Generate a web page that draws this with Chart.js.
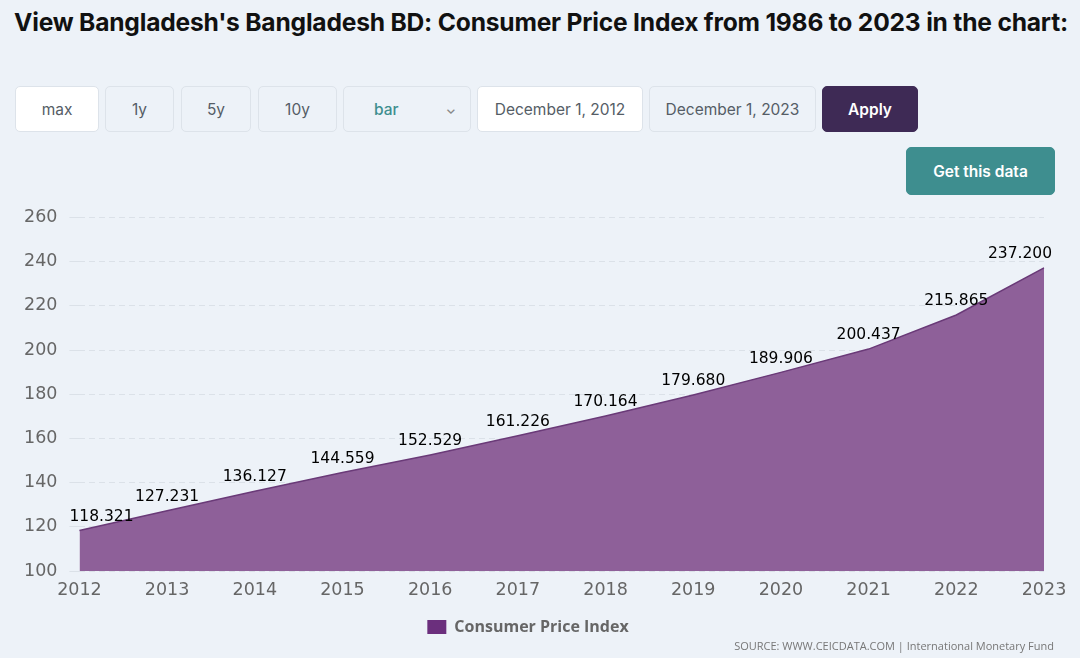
<!DOCTYPE html>
<html>
<head>
<meta charset="utf-8">
<title>Bangladesh BD: Consumer Price Index</title>
<script src="https://cdn.jsdelivr.net/npm/chart.js"></script>
<style>
  body { margin: 0; background: #edf2f8; font-family: Inter, "Open Sans", sans-serif; width: 1080px; height: 658px; position: relative; overflow: hidden; }
  h1 { position: absolute; left: 14px; top: 7px; margin: 0; font-size: 24.6px; font-weight: 700; color: #111; letter-spacing: -0.2px; }
  .btn { position: absolute; top: 86px; height: 46px; box-sizing: border-box; border: 1px solid #dde3ea; border-radius: 5px; background: #edf2f8; color: #555d66; font-size: 15.5px; display: flex; align-items: center; justify-content: center; }
  .white { background: #fff; }
  #apply { background: #3e2a55; color: #fff; border-color: #3e2a55; font-weight: 600; }
  #getdata { top: 147px; height: 48px; background: #3e8e8f; color: #fff; border-color: #3e8e8f; font-weight: 600; }
  #sel { color: #3e8e8f; justify-content: space-between; padding: 0 14px 0 30px; font-weight: 500; }
  #chartbox { position: absolute; left: 0; top: 195px; width: 1080px; height: 450px; }
  #source { position: absolute; right: 26px; top: 638px; font-size: 11px; color: #777; font-family: "Open Sans", sans-serif; }
</style>
</head>
<body>
<h1>View Bangladesh's Bangladesh BD: Consumer Price Index from 1986 to 2023 in the chart:</h1>
<div class="btn white" style="left:15px;width:84px">max</div>
<div class="btn" style="left:105px;width:69px">1y</div>
<div class="btn" style="left:181px;width:70px">5y</div>
<div class="btn" style="left:258px;width:79px">10y</div>
<div class="btn" id="sel" style="left:343px;width:128px"><span>bar</span><span style="color:#888;font-size:13px">&#8964;</span></div>
<div class="btn white" style="left:477px;width:166px">December 1, 2012</div>
<div class="btn" style="left:649px;width:167px">December 1, 2023</div>
<div class="btn" id="apply" style="left:822px;width:96px">Apply</div>
<div class="btn" id="getdata" style="left:906px;width:149px">Get this data</div>
<div id="chartbox"><canvas id="myChart"></canvas></div>
<div id="source">SOURCE: WWW.CEICDATA.COM | International Monetary Fund</div>
<script>
  // data
  const years = ['2012', '2013', '2014', '2015', '2016', '2017', '2018', '2019', '2020', '2021', '2022', '2023'];
  const cpi = [118.321, 127.231, 136.127, 144.559, 152.529, 161.226, 170.164, 179.680, 189.906, 200.437, 215.865, 237.200];
  const yTicks = [100, 120, 140, 160, 180, 200, 220, 240, 260];

  // value labels above each point, kept inside the chart area
  const valueLabels = {
    id: 'valueLabels',
    afterDatasetsDraw(chart) {
      const c = chart.ctx;
      const meta = chart.getDatasetMeta(0);
      c.save();
      c.font = '15.5px "DejaVu Sans"';
      c.fillStyle = '#000';
      c.textBaseline = 'bottom';
      c.textAlign = 'center';
      meta.data.forEach((pt, i) => {
        const txt = cpi[i].toFixed(3);
        const w = c.measureText(txt).width;
        let x = pt.x;
        x = Math.max(x, chart.chartArea.left - 10 + w / 2);
        x = Math.min(x, chart.chartArea.right + 10 - w / 2 - 2);
        c.fillText(txt, x, pt.y - 6);
      });
      c.restore();
    }
  };

  const ctx = document.getElementById('myChart').getContext('2d');
  new Chart(ctx, {
    type: 'line',
    data: {
      labels: years,
      datasets: [{
        label: 'Consumer Price Index',
        data: cpi,
        fill: 'start',
        backgroundColor: '#8e6099',
        borderColor: '#6a3a78',
        borderWidth: 1.5,
        pointRadius: 0,
        tension: 0
      }]
    },
    options: {
      responsive: true,
      maintainAspectRatio: false,
      animation: false,
      layout: { padding: { top: 10, right: 36, left: 12, bottom: 0 } },
      scales: {
        x: {
          offset: false,
          grid: { display: false },
          border: { display: false },
          ticks: { color: '#666', font: { family: 'DejaVu Sans', size: 17.5 }, padding: 1, maxRotation: 0 }
        },
        y: {
          min: 100,
          max: 260,
          afterBuildTicks: (axis) => { axis.ticks = yTicks.map(v => ({ value: v })); },
          grid: { color: '#dbe1e8', tickLength: 10, drawTicks: true },
          border: { display: false, dash: [6, 4] },
          ticks: { color: '#666', font: { family: 'DejaVu Sans', size: 17.5 }, padding: 12 }
        }
      },
      plugins: {
        legend: {
          position: 'bottom',
          labels: {
            color: '#666',
            font: { family: 'Open Sans', size: 16, weight: 'bold' },
            boxWidth: 19,
            boxHeight: 14,
            padding: 17,
            generateLabels: (chart) => [{
              text: 'Consumer Price Index',
              fillStyle: '#6b2f7d',
              strokeStyle: '#6b2f7d',
              lineWidth: 0,
              fontColor: '#666',
              datasetIndex: 0
            }]
          }
        },
        tooltip: { enabled: false }
      }
    },
    plugins: [valueLabels]
  });
</script>
</body>
</html>
